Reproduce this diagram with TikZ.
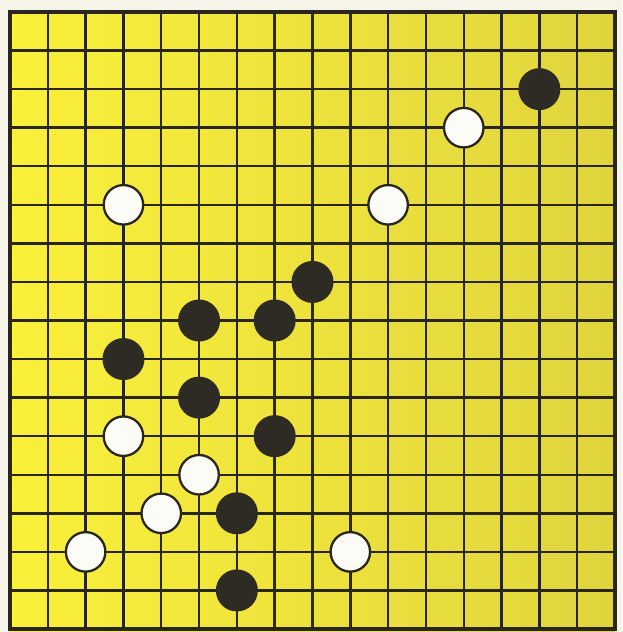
\documentclass[tikz,border=0pt]{standalone}
\definecolor{boardL}{RGB}{250,240,58}
\definecolor{boardM}{RGB}{238,228,60}
\definecolor{boardR}{RGB}{224,212,62}
\definecolor{ink}{RGB}{40,38,30}
\definecolor{paper}{RGB}{246,243,232}
\definecolor{stoneB}{RGB}{45,43,36}
\definecolor{stoneW}{RGB}{252,252,246}
\begin{document}
\begin{tikzpicture}[x=1pt,y=-1pt,
  gridline/.style={ink, line width=2.4pt},
  frameline/.style={ink, line width=3.8pt},
  blackstone/.style={circle, fill=stoneB, minimum size=42pt, inner sep=0pt},
  whitestone/.style={circle, draw=ink, line width=2.3pt, fill=stoneW, minimum size=39.5pt, inner sep=0pt}]
\useasboundingbox (0,0) rectangle (622,632);
\fill[paper] (0,0) rectangle (622,632);
\shade[left color=boardL, middle color=boardM, right color=boardR] (10,12) rectangle (615,632);
\foreach \i in {1,...,15} \draw[gridline] ({10+37.8125*\i},12) -- ({10+37.8125*\i},629);
\foreach \j in {1,...,15} \draw[gridline] (10,{12+38.5625*\j}) -- (615,{12+38.5625*\j});
\draw[frameline] (10,12) rectangle (615,629);
% stones: (column, row)
\foreach \n/\c/\r in {b1/14/2, b2/8/7, b3/5/8, b4/7/8, b5/3/9, b6/5/10, b7/7/11, b8/6/13, b9/6/15}
  \node[blackstone] (\n) at ({10+37.8125*\c},{12+38.5625*\r}) {};
\foreach \n/\c/\r in {w1/12/3, w2/10/5, w3/3/5, w4/3/11, w5/5/12, w6/4/13, w7/2/14, w8/9/14}
  \node[whitestone] (\n) at ({10+37.8125*\c},{12+38.5625*\r}) {};
\end{tikzpicture}
\end{document}
